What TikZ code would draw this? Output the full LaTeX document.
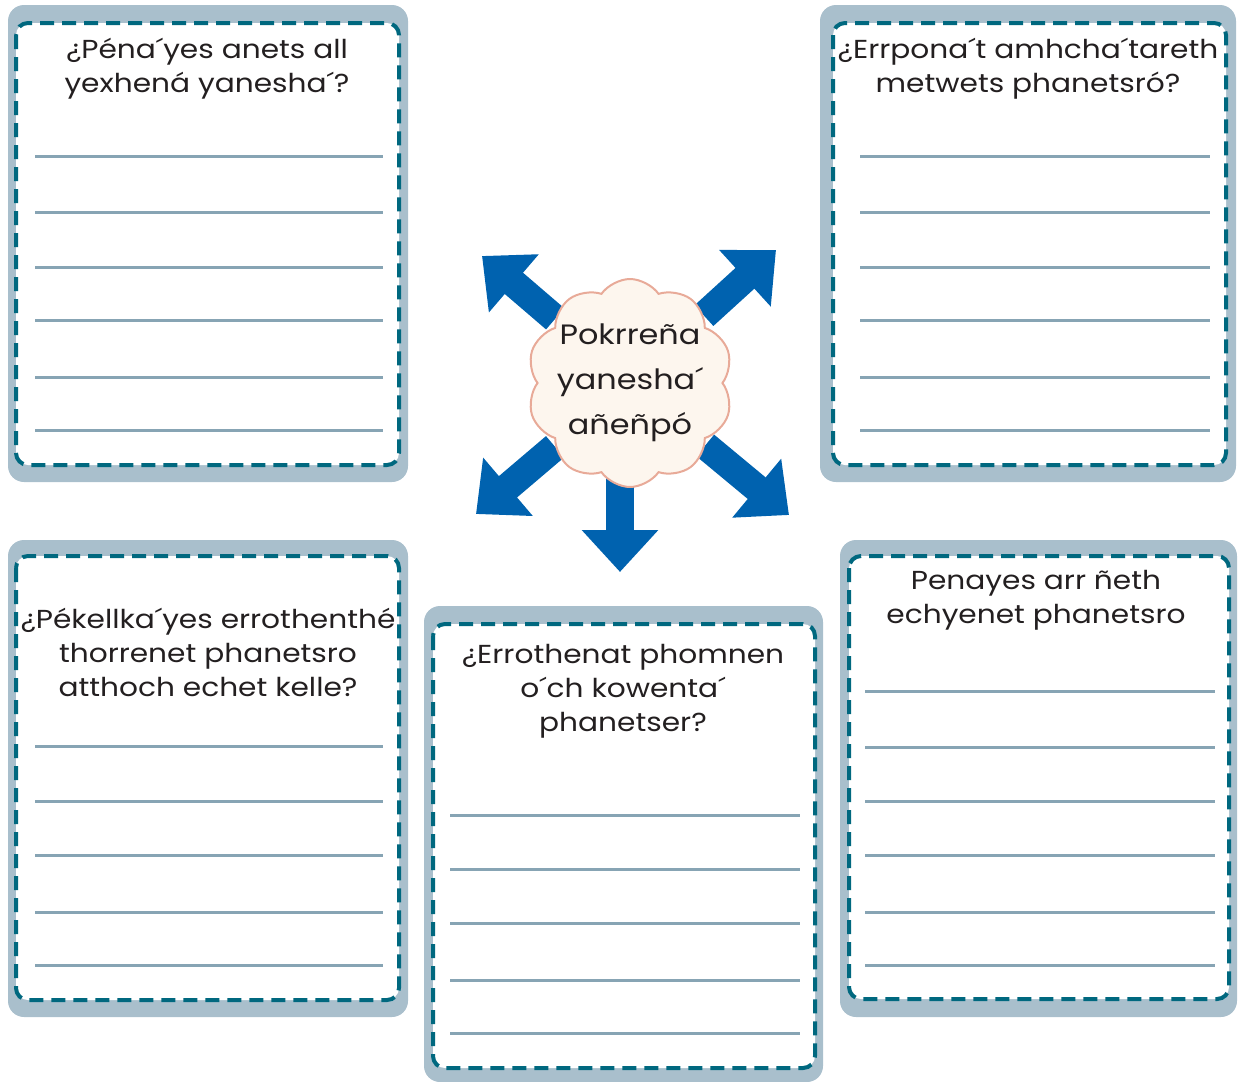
\documentclass[tikz,border=0pt]{standalone}
\usepackage{fontspec}
\setmainfont{Poppins}[FakeStretch=1.14]
\usetikzlibrary{shapes.symbols,arrows.meta,backgrounds}
\definecolor{framegray}{HTML}{A9BFCC}
\definecolor{dashteal}{HTML}{00687F}
\definecolor{rulegray}{HTML}{87A4B4}
\definecolor{arrowblue}{HTML}{0062AF}
\definecolor{cloudfill}{HTML}{FDF6EE}
\definecolor{cloudedge}{HTML}{E8AA98}
\definecolor{ink}{HTML}{231F20}

\begin{document}
\begin{tikzpicture}[x=0.5pt, y=-0.5pt, frame/.style={fill=framegray, rounded corners=8pt}, card/.style={draw=dashteal, fill=white, line width=2pt, dash pattern=on 7pt off 4pt, rounded corners=6pt}, rule/.style={draw=rulegray, line width=1.5pt}, ask/.style={align=center, anchor=north, inner sep=0pt, text=ink, font=\fontsize{13}{17}\selectfont}, idea/.style={cloud, cloud puffs=10, cloud puff arc=110, cloud ignores aspect, draw=cloudedge, fill=cloudfill, line width=1pt, minimum width=103pt, minimum height=104pt, inner sep=0pt}, ideatext/.style={align=center, inner sep=0pt, text=ink, font=\fontsize{14}{22.5}\selectfont}, burst/.style={draw=arrowblue, line width=14pt, -{Triangle[length=21pt, width=37pt]}}]
            \useasboundingbox (0,0) rectangle (1238,1082);
            % cards
            \fill[frame] (8,5) rectangle (408,482);
            \draw[card] (16,23) rectangle (399,465);
            \foreach \y in {156,212,267,320,377,430} \draw[rule] (35,\y) -- (383,\y);
            \node[ask] (quien) at (207,38) {¿Péna´yes anets all\\yexhená yanesha´?};

            \fill[frame] (820,5) rectangle (1236,482);
            \draw[card] (833,23) rectangle (1226,465);
            \foreach \y in {156,212,267,320,377,430} \draw[rule] (860,\y) -- (1210,\y);
            \node[ask] (donde) at (1028,38) {¿Errpona´t amhcha´tareth\\metwets phanetsró?};

            \fill[frame] (8,540) rectangle (408,1017);
            \draw[card] (16,556) rectangle (399,1000);
            \foreach \y in {746,801,855,912,965} \draw[rule] (35,\y) -- (383,\y);
            \node[ask] (cuando) at (208,608) {¿Pékellka´yes errothenthé\\thorrenet phanetsro\\atthoch echet kelle?};

            \fill[frame] (424,606) rectangle (823,1082);
            \draw[card] (433,624) rectangle (815,1068);
            \foreach \y in {815,869,923,980,1033} \draw[rule] (450,\y) -- (800,\y);
            \node[ask] (como) at (623,644) {¿Errothenat phomnen\\o´ch kowenta´\\phanetser?};

            \fill[frame] (840,540) rectangle (1237,1017);
            \draw[card] (849,556) rectangle (1229,999);
            \foreach \y in {691,747,801,855,912,965} \draw[rule] (865,\y) -- (1215,\y);
            \node[ask] (que) at (1036,570) {Penayes arr ñeth\\echyenet phanetsro};

            % centre
            \node[idea] (tema) at (630,383) {};
            \node[ideatext] (tematexto) at (tema) {Pokrreña\\yanesha´\\añeñpó};
            \begin{scope}[on background layer]
                \coordinate (nw) at (482,256);
                \coordinate (ne) at (776,250);
                \coordinate (sw) at (476,514);
                \coordinate (se) at (789,515);
                \coordinate (s) at (620,572);
                \draw[burst] (tema) -- (nw);
                \draw[burst] (tema) -- (ne);
                \draw[burst] (tema) -- (sw);
                \draw[burst] (tema) -- (se);
                \draw[burst] (tema.center -| s) -- (s);
            \end{scope}
        \end{tikzpicture}
\end{document}
